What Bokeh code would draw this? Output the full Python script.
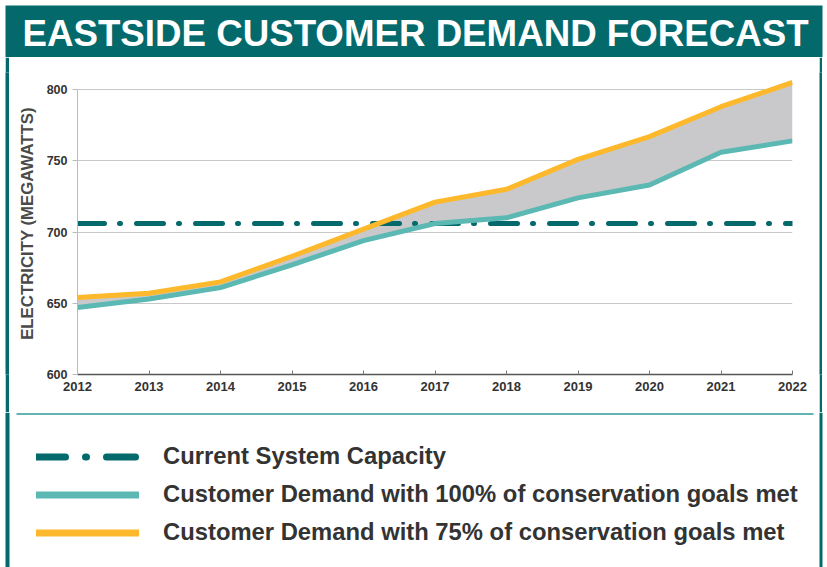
from bokeh.plotting import figure
from bokeh.models import Label, BoxAnnotation, Legend, LegendItem, Range1d, FixedTicker, Spacer
from bokeh.layouts import row
from bokeh.embed import file_html
from bokeh.resources import INLINE

# ---- data ----
years = [2012, 2013, 2014, 2015, 2016, 2017, 2018, 2019, 2020, 2021, 2022]
demand_100 = [647, 653, 661, 677, 694, 706, 710, 724, 733, 756, 764]
demand_75 = [654, 657, 665, 683, 702, 721, 730, 751, 767, 788, 805]
capacity = [706] * len(years)
y_ticks = [600, 650, 700, 750, 800]
title_text = "EASTSIDE CUSTOMER DEMAND FORECAST"
y_label = "ELECTRICITY (MEGAWATTS)"
legend_labels = [
    "Current System Capacity",
    "Customer Demand with 100% of conservation goals met",
    "Customer Demand with 75% of conservation goals met",
]

DARK_TEAL = "#03696B"
LIGHT_TEAL = "#5BB8B3"
ORANGE = "#FDB92B"
FILL_GRAY = "#C9C9CB"
TEXT = "#333333"
FULL_W = 827


def blank(w, h, color):
    f = figure(width=w, height=h, output_backend="svg", toolbar_location=None,
               x_axis_type=None, y_axis_type=None,
               x_range=Range1d(0, w), y_range=Range1d(0, h), min_border=0)
    f.outline_line_color = None
    f.background_fill_color = color
    f.border_fill_color = color
    return f


# ---- title band (page y 0..57) ----
TH = 57
t = blank(FULL_W, TH, "white")
t.add_layout(BoxAnnotation(left=5, right=822, bottom=0, top=TH - 5,
                           fill_color=DARK_TEAL, fill_alpha=1, line_color=None))
t.add_layout(Label(x=22, y=24, text=title_text, text_font="Liberation Sans",
                   text_font_style="bold", text_font_size="36.7px", text_color="white",
                   text_baseline="middle"))

# ---- chart (page y 57..412) ----
CH = 355
p = figure(width=810, height=CH, x_range=Range1d(2012, 2022), y_range=Range1d(600, 812),
           output_backend="svg", toolbar_location=None,
           min_border_left=68, min_border_right=27, min_border_top=15, min_border_bottom=38)
p.outline_line_color = None
p.background_fill_color = "white"
p.border_fill_color = "white"

p.xaxis.ticker = FixedTicker(ticks=years)
p.xaxis.major_label_text_font = "Liberation Sans"
p.xaxis.major_label_text_font_style = "bold"
p.xaxis.major_label_text_font_size = "13px"
p.xaxis.major_label_text_color = TEXT
p.xaxis.axis_line_color = "#555555"
p.xaxis.axis_line_width = 1.5
p.xaxis.major_tick_in = 4
p.xaxis.major_tick_out = 0
p.xaxis.major_tick_line_color = "#777777"
p.xaxis.minor_tick_line_color = None
p.xaxis.major_label_standoff = 7

p.yaxis.ticker = FixedTicker(ticks=y_ticks)
p.yaxis.bounds = (600, 800)
p.yaxis.major_label_text_font = "Liberation Sans"
p.yaxis.major_label_text_font_style = "bold"
p.yaxis.major_label_text_font_size = "12.5px"
p.yaxis.major_label_text_color = TEXT
p.yaxis.axis_line_color = "#BBBBBB"
p.yaxis.major_tick_in = 0
p.yaxis.major_tick_out = 5
p.yaxis.major_tick_line_color = "#BBBBBB"
p.yaxis.minor_tick_line_color = None
p.yaxis.major_label_standoff = 5
p.yaxis.axis_label = y_label
p.yaxis.axis_label_text_font = "Liberation Sans"
p.yaxis.axis_label_text_font_style = "bold"
p.yaxis.axis_label_text_font_size = "16.8px"
p.yaxis.axis_label_text_color = "#4A4A4A"
p.yaxis.axis_label_standoff = 7

p.xgrid.grid_line_color = None
p.ygrid.ticker = FixedTicker(ticks=y_ticks)
p.ygrid.grid_line_color = "#C8C8C8"
p.ygrid.grid_line_width = 1

p.varea(x=years, y1=demand_100, y2=demand_75, fill_color=FILL_GRAY)
p.line(x=years, y=capacity, line_color=DARK_TEAL, line_width=5,
       line_dash="27 15 1 16", line_cap="round")
p.line(x=years, y=demand_100, line_color=LIGHT_TEAL, line_width=5, line_join="round")
p.line(x=years, y=demand_75, line_color=ORANGE, line_width=5, line_join="round")

strip_l = blank(4, CH, DARK_TEAL)
strip_r = blank(3, CH, DARK_TEAL)
mid = row(Spacer(width=5, height=CH), strip_l, p, strip_r, Spacer(width=5, height=CH), spacing=0)

# ---- legend panel (page y 412..567) ----
LH = 155
lg = blank(FULL_W, LH, "white")
lg.add_layout(BoxAnnotation(left=5, right=9, bottom=0, top=LH,
                            fill_color=DARK_TEAL, fill_alpha=1, line_color=None))
lg.add_layout(BoxAnnotation(left=819, right=822, bottom=0, top=LH,
                            fill_color=DARK_TEAL, fill_alpha=1, line_color=None))
lg.add_layout(BoxAnnotation(left=16, right=813, bottom=LH - 2.5, top=LH - 0.5,
                            fill_color="#62B3B1", fill_alpha=1, line_color=None))
# legend swatches (drawn off-range; only their styles appear in the legend)
sw_cap = lg.line(x=years, y=capacity, line_color=DARK_TEAL, line_width=7,
                 line_dash="29 20 1 20", line_cap="round")
sw_100 = lg.line(x=years, y=demand_100, line_color=LIGHT_TEAL, line_width=7, line_cap="round")
sw_75 = lg.line(x=years, y=demand_75, line_color=ORANGE, line_width=7, line_cap="round")
legend = Legend(items=[LegendItem(label=legend_labels[0], renderers=[sw_cap]),
                       LegendItem(label=legend_labels[1], renderers=[sw_100]),
                       LegendItem(label=legend_labels[2], renderers=[sw_75])],
                location=(36, 21), orientation="vertical",
                glyph_width=103, glyph_height=27, label_height=27, label_standoff=24, spacing=10,
                padding=0, margin=0, border_line_alpha=0, background_fill_alpha=0,
                label_text_font="Liberation Sans", label_text_font_style="bold",
                label_text_font_size="23.8px", label_text_color=TEXT)
lg.add_layout(legend, "center")

open("out.html", "w").write(file_html([t, mid, lg], INLINE))
